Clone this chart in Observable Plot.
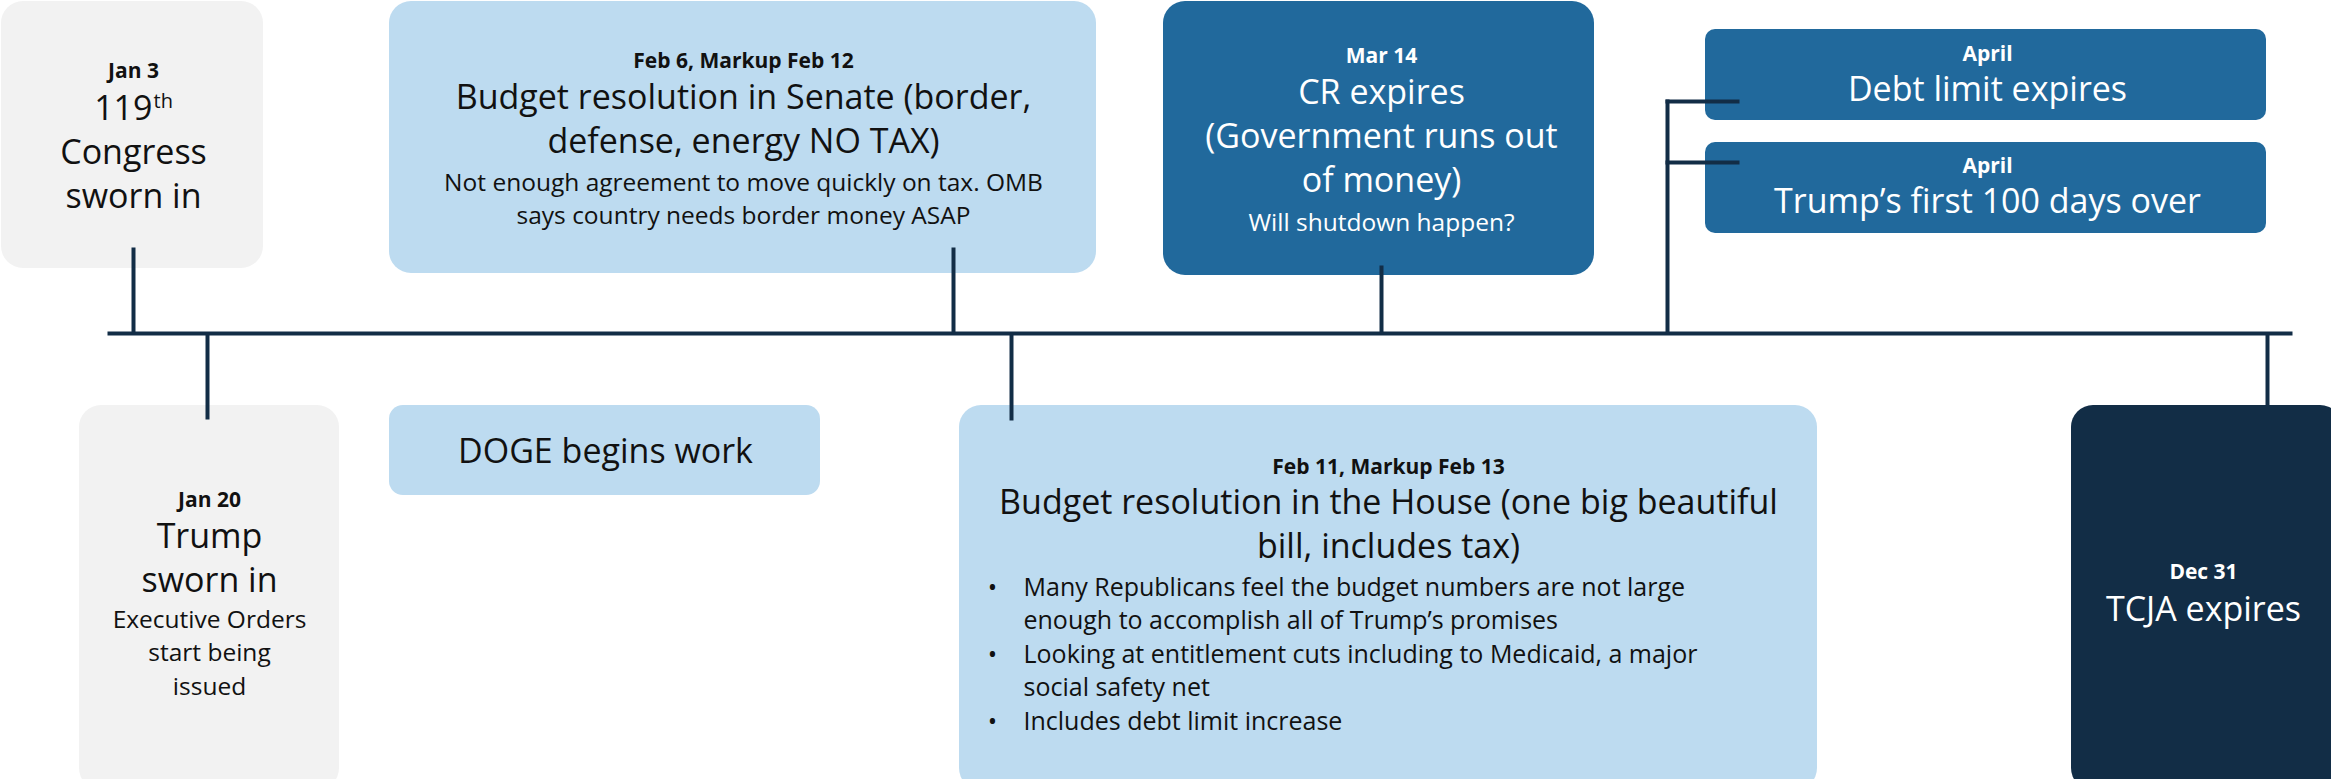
<!DOCTYPE html>
<html><head><meta charset="utf-8">
<script src="https://cdn.jsdelivr.net/npm/d3@7"></script>
<script src="https://cdn.jsdelivr.net/npm/@observablehq/plot@0.6"></script>
<style>html,body{margin:0;padding:0;background:#fff;}</style>
</head><body><div id="chart"></div>
<script>
// ---------- content ----------
const dates = ["Jan 3", "Jan 20", "", "Feb 6, Markup Feb 12", "Feb 11, Markup Feb 13", "Mar 14", "April", "April", "Dec 31"];
const titles = [
  ["119", "Congress", "sworn in"],
  ["Trump", "sworn in"],
  ["DOGE begins work"],
  ["Budget resolution in Senate (border,", "defense, energy NO TAX)"],
  ["Budget resolution in the House (one big beautiful", "bill, includes tax)"],
  ["CR expires", "(Government runs out", "of money)"],
  ["Debt limit expires"],
  ["Trump’s first 100 days over"],
  ["TCJA expires"]
];
const ordinalSuffix = "th";
const notes = [
  [],
  ["Executive Orders", "start being", "issued"],
  [],
  ["Not enough agreement to move quickly on tax. OMB", "says country needs border money ASAP"],
  [],
  ["Will shutdown happen?"],
  [], [], []
];
const houseBullets = [
  ["Many Republicans feel the budget numbers are not large", "enough to accomplish all of Trump’s promises"],
  ["Looking at entitlement cuts including to Medicaid, a major", "social safety net"],
  ["Includes debt limit increase"]
];

// ---------- layout (diagram geometry, px) ----------
const layout = [
  {x1: 1,    x2: 263,  y1: 1,   y2: 268, cx: 133,  dateY: 77,  titleY: 119, noteY: null, tone: "grey",  r: 22},
  {x1: 79,   x2: 339,  y1: 405, y2: 790, cx: 209,  dateY: 506, titleY: 547, noteY: 627,  tone: "grey",  r: 22},
  {x1: 389,  x2: 820,  y1: 405, y2: 495, cx: 605,  dateY: null, titleY: 462, noteY: null, tone: "light", r: 14},
  {x1: 389,  x2: 1096, y1: 1,   y2: 273, cx: 743,  dateY: 67,  titleY: 108, noteY: 190,  tone: "light", r: 22},
  {x1: 959,  x2: 1817, y1: 405, y2: 790, cx: 1388, dateY: 473, titleY: 513, noteY: null, tone: "light", r: 22},
  {x1: 1163, x2: 1594, y1: 1,   y2: 275, cx: 1381, dateY: 62,  titleY: 103, noteY: 230,  tone: "mid",   r: 22},
  {x1: 1705, x2: 2266, y1: 29,  y2: 120, cx: 1987, dateY: 60,  titleY: 100, noteY: null, tone: "mid",   r: 10},
  {x1: 1705, x2: 2266, y1: 142, y2: 233, cx: 1987, dateY: 172, titleY: 212, noteY: null, tone: "mid",   r: 10},
  {x1: 2071, x2: 2342, y1: 405, y2: 790, cx: 2203, dateY: 578, titleY: 620, noteY: null, tone: "dark",  r: 22}
];
const bulletLayout = {dotX: 992, textX: 1023, y: 595, lh: 33.5};
const connectors = [
  {x1: 107,  y1: 333, x2: 2292, y2: 333},
  {x1: 133,  y1: 247, x2: 133,  y2: 333},
  {x1: 207,  y1: 333, x2: 207,  y2: 419},
  {x1: 953,  y1: 247, x2: 953,  y2: 333},
  {x1: 1011, y1: 333, x2: 1011, y2: 420},
  {x1: 1381, y1: 265, x2: 1381, y2: 333},
  {x1: 1667, y1: 99,  x2: 1667, y2: 333},
  {x1: 1665, y1: 101, x2: 1739, y2: 101},
  {x1: 1665, y1: 162, x2: 1739, y2: 162},
  {x1: 2267, y1: 333, x2: 2267, y2: 405}
];
const palette = {grey: "#f2f2f2", light: "#bddbf0", mid: "#21699c", dark: "#122d46"};
const inkFor = {grey: "#111111", light: "#111111", mid: "#ffffff", dark: "#ffffff"};
const lineNavy = "#122d46";
const FONT = "'Open Sans', 'Liberation Sans', sans-serif";
const titleLH = 44, noteLH = 33.5;
const SIZE = {date: 21, title: 34, note: 24.5, bullet: 25, sup: 20};

// ---------- derived rows ----------
const events = dates.map((d, i) => ({date: d, title: titles[i], note: notes[i], ...layout[i],
  fill: palette[layout[i].tone], ink: inkFor[layout[i].tone]}));

const dateRows = events.filter(e => e.date).map(e => ({x: e.cx, y: e.dateY, text: e.date, ink: e.ink}));
const titleRows = events.flatMap((e, k) => e.title.map((t, i) => ({x: e.cx, y: e.titleY + i * titleLH, text: t, ink: e.ink, sup: k === 0 && i === 0})));
const noteRows = events.filter(e => e.noteY != null).flatMap(e => e.note.map((t, i) => ({x: e.cx, y: e.noteY + i * noteLH, text: t, ink: e.ink})));
let li = 0;
const bulletRows = [], dotRows = [];
houseBullets.forEach(item => {
  item.forEach((t, j) => {
    const y = bulletLayout.y + li * bulletLayout.lh;
    bulletRows.push({x: bulletLayout.textX, y, text: t});
    if (j === 0) dotRows.push({x: bulletLayout.dotX, y, text: "•"});
    li++;
  });
});
const supRow = titleRows.filter(r => r.sup);

const boxesBig = events.filter(e => e.r === 22);
const boxesMid = events.filter(e => e.r === 14);
const boxesSmall = events.filter(e => e.r === 10);

const rectOpts = (data, r) => Plot.rect(data, {x1: "x1", x2: "x2", y1: "y1", y2: "y2", fill: "fill", rx: r, ry: r});

const chart = Plot.plot({
  width: 2331, height: 779,
  margin: 0,
  x: {domain: [0, 2331], range: [0, 2331], axis: null},
  y: {domain: [0, 779], range: [0, 779], axis: null},
  color: {type: "identity"},
  style: {background: "#ffffff", fontFamily: FONT},
  marks: [
    rectOpts(boxesBig, 22),
    rectOpts(boxesMid, 14),
    rectOpts(boxesSmall, 10),
    Plot.link(connectors, {x1: "x1", y1: "y1", x2: "x2", y2: "y2", stroke: lineNavy, strokeWidth: 4, strokeLinecap: "butt"}),
    Plot.text(dateRows, {x: "x", y: "y", text: "text", fill: "ink", fontSize: SIZE.date, fontWeight: 700, lineAnchor: "bottom", fontFamily: FONT}),
    Plot.text(titleRows.filter(r => !r.sup), {x: "x", y: "y", text: "text", fill: "ink", fontSize: SIZE.title, lineAnchor: "bottom", fontFamily: FONT}),
    Plot.text(supRow, {x: d => d.x + 19, y: "y", text: "text", fill: "ink", fontSize: SIZE.title, lineAnchor: "bottom", textAnchor: "end", fontFamily: FONT}),
    Plot.text(supRow, {x: d => d.x + 20, y: d => d.y - 12, text: () => ordinalSuffix, fill: "ink", fontSize: SIZE.sup, lineAnchor: "bottom", textAnchor: "start", fontFamily: FONT}),
    Plot.text(noteRows, {x: "x", y: "y", text: "text", fill: "ink", fontSize: SIZE.note, lineAnchor: "bottom", fontFamily: FONT}),
    Plot.text(bulletRows, {x: "x", y: "y", text: "text", fill: "#111111", fontSize: SIZE.bullet, lineAnchor: "bottom", textAnchor: "start", fontFamily: FONT}),
    Plot.text(dotRows, {x: "x", y: "y", text: "text", fill: "#111111", fontSize: SIZE.bullet, lineAnchor: "bottom", fontFamily: FONT})
  ]
});
document.getElementById("chart").appendChild(chart);
</script>
</body></html>
